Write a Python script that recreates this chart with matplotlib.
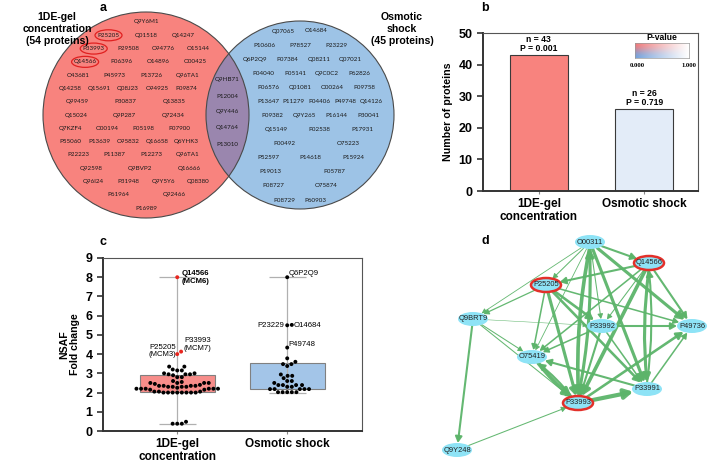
import numpy as np
import matplotlib.pyplot as plt
from matplotlib.patches import Circle, Ellipse, FancyArrowPatch

plt.rcParams['font.family'] = ['Liberation Sans', 'DejaVu Sans']

# ---------------- data ----------------
# a: Venn diagram, protein IDs grouped in rows as they appear
gel_only_rows = [
    ['Q9Y6M1'],
    ['P25205', 'Q01518', 'Q14247'],
    ['P33993', 'P29508', 'O94776', 'O15144'],
    ['Q14566', 'P06396', 'O14896', 'O00425'],
    ['O43681', 'P45973', 'P13726', 'Q96TA1'],
    ['Q14258', 'Q15691', 'Q08J23', 'O94925', 'P09874'],
    ['Q99459', 'P30837', 'Q13835'],
    ['Q15024', 'Q9P287', 'Q72434'],
    ['Q7KZF4', 'O00194', 'P05198', 'P07900'],
    ['P55060', 'P13639', 'O95832', 'Q16658', 'Q6YHK3'],
    ['P22223', 'P11387', 'P12273', 'Q96TA1'],
    ['Q92598', 'Q9BVP2', 'Q16666'],
    ['Q96I24', 'P31948', 'Q9Y5Y6', 'Q08380'],
    ['P61964', 'Q92466'],
    ['P16989'],
]
shared = ['Q9HB71', 'P12004', 'Q9Y446', 'Q14764', 'P13010']
osmotic_only_rows = [
    ['Q07065', 'O14684'],
    ['P10606', 'P78527', 'P23229'],
    ['Q6P2Q9', 'P07384', 'Q08211', 'Q07021'],
    ['P04040', 'P05141', 'Q9C0C2', 'P62826'],
    ['P06576', 'Q01081', 'O00264', 'P09758'],
    ['P13647', 'P11279', 'P04406', 'P49748', 'Q14126'],
    ['P09382', 'Q9Y265', 'P16144', 'P30041'],
    ['Q15149', 'P02538', 'P17931'],
    ['P00492', 'O75223'],
    ['P52597', 'P14618', 'P15924'],
    ['P19013', 'P05787'],
    ['P08727', 'O75874'],
    ['P08729', 'P60903'],
]
circled = ['P25205', 'P33993', 'Q14566']

# b: bar chart
methods = ['1DE-gel\nconcentration', 'Osmotic shock']
n_proteins = [43, 26]
p_values = [0.001, 0.719]

# c: NSAF fold change
g1_black = [3.35, 3.35, 3.15, 3.15, 3.2, 2.95, 2.95, 2.95, 3.0, 3.0, 2.9, 2.8,
            2.8, 2.6, 2.55, 2.5, 2.5, 2.5, 2.45, 2.5, 2.35, 2.35, 2.35, 2.3,
            2.3, 2.35, 2.3, 2.3, 2.25, 2.4, 2.2, 2.2, 2.2, 2.15, 2.2, 2.15,
            2.2, 2.2, 2.05, 2.0, 2.0, 2.0, 2.0, 2.0, 2.05, 2.0, 2.0, 2.05,
            2.0, 0.38, 0.48, 0.38, 0.38]
g1_named = {'Q14566\n(MCM6)': 8.0, 'P25205\n(MCM3)': 4.0, 'P33993\n(MCM7)': 4.13}
g2_black = [3.78, 3.6, 3.48, 3.48, 3.38, 2.94, 2.87, 2.87, 2.75, 2.6, 2.6, 2.5,
            2.39, 2.39, 2.39, 2.39, 2.3, 2.3, 2.18, 2.18, 2.18, 2.18, 2.18,
            2.02, 2.02, 2.02, 2.02, 2.02]
g2_named = {'Q6P2Q9': 8.0, 'P23229': 5.5, 'O14684': 5.52, 'P49748': 4.34}
box_q1 = [2.05, 2.16]
box_q3 = [2.9, 3.52]
whisk_lo = [0.38, 2.0]
whisk_hi = [8.0, 8.0]

# d: interaction network
nodes = ['O00311', 'Q14566', 'P25205', 'Q9BRT9', 'P33992', 'P49736',
         'O75419', 'P33991', 'P33993', 'Q9Y248']
node_x = [590, 649, 546, 473, 602, 692, 532, 647, 578, 457]
node_y = [242, 263, 285, 319, 326, 326, 357, 389, 403, 450]
mcm_nodes = ['Q14566', 'P25205', 'P33993']
edges = [
    ('O00311', 'Q14566', 2.0), ('O00311', 'P25205', 1.0), ('O00311', 'Q9BRT9', 0.8),
    ('O00311', 'O75419', 0.8), ('O00311', 'P33992', 1.0), ('O00311', 'P33993', 3.5),
    ('O00311', 'P33991', 3.0), ('O00311', 'P49736', 3.0), ('P33993', 'O00311', 3.0),
    ('Q14566', 'P25205', 2.0), ('Q14566', 'P49736', 2.0), ('Q14566', 'P33991', 3.0),
    ('Q14566', 'P33993', 3.5), ('Q14566', 'O75419', 1.5), ('Q14566', 'P33992', 1.0),
    ('P25205', 'Q9BRT9', 1.2), ('P25205', 'P33993', 3.0), ('P25205', 'P33991', 2.5),
    ('P25205', 'P49736', 1.5), ('P25205', 'O75419', 1.5), ('P25205', 'P33992', 2.5),
    ('Q9BRT9', 'P33992', 0.5), ('Q9BRT9', 'O75419', 1.0), ('Q9BRT9', 'P33993', 1.0),
    ('Q9BRT9', 'Q9Y248', 2.0), ('P33992', 'P49736', 2.0), ('P33992', 'O75419', 1.5),
    ('P33992', 'P33993', 2.0), ('P33992', 'P33991', 1.5), ('O75419', 'P33993', 3.5),
    ('P33993', 'O75419', 2.0), ('P33991', 'O75419', 2.0), ('P33993', 'P33991', 4.0),
    ('P33993', 'P49736', 2.5), ('P33991', 'P49736', 1.5), ('P33991', 'Q14566', 2.0),
    ('Q9Y248', 'P33993', 1.0),
]

# ---------------- figure ----------------
W, H = 708, 462
fig = plt.figure(figsize=(W / 100, H / 100), dpi=100)


def px_axes(l, t, w, h):
    return fig.add_axes([l / W, 1 - (t + h) / H, w / W, h / H])


def ftext(x, y, s, **kw):
    fig.text(x / W, 1 - y / H, s, **kw)


# ---- a: Venn ----
axa = px_axes(0, 0, 420, 225)
axa.set_xlim(0, 420)
axa.set_ylim(225, 0)
axa.axis('off')

rc, ry, rr = 146, 115, 103
bc, by, br = 300, 115, 94
red = Circle((rc, ry), rr, fc='#f8837e', ec='none')
blue = Circle((bc, by), br, fc='#9dc3e6', ec='none')
axa.add_patch(red)
axa.add_patch(blue)
mix = Circle((bc, by), br, fc='#9a86ae', ec='none')
axa.add_patch(mix)
mix.set_clip_path(red)
for c in [(rc, ry, rr), (bc, by, br)]:
    axa.add_patch(Circle(c[:2], c[2], fill=False, ec='#4a4a4a', lw=0.8))


def half_chord(cy, r, y):
    d = r * r - (y - cy) ** 2
    return np.sqrt(d) if d > 0 else None


def place_rows(rows, y0, y1, bounds):
    ys = np.linspace(y0, y1, len(rows))
    for row, y in zip(rows, ys):
        xl, xr = bounds(y)
        n = len(row)
        for j, name in enumerate(row):
            x = xl + (j + 0.5) * (xr - xl) / n
            axa.text(x, y, name, fontsize=4.5, family='Lato', ha='center',
                     va='center', color='#1a1a1a')
            if name in circled:
                axa.add_patch(Ellipse((x, y), 27, 11, fill=False, ec='#e02020', lw=0.9))


def red_bounds(y):
    h = half_chord(ry, rr, y)
    xl, xr = rc - h + 9, rc + h - 9
    hb = half_chord(by, br, y)
    if hb is not None:
        xr = min(xr, bc - hb - 9)
    return xl, xr


def blue_bounds(y):
    h = half_chord(by, br, y)
    xl, xr = bc - h + 9, bc + h - 9
    hr = half_chord(ry, rr, y)
    if hr is not None:
        xl = max(xl, rc + hr + 7)
    return xl, xr


place_rows(gel_only_rows, 22, 208, red_bounds)
place_rows(osmotic_only_rows, 31, 200, blue_bounds)
lens_x = ((bc - br) + (rc + rr)) / 2
for i, name in enumerate(shared):
    axa.text(lens_x, ry + (i - 2) * 16 - 3, name, fontsize=4.5, family='Lato',
             ha='center', va='center', color='#1a1a1a')

ftext(57, 29, '1DE-gel\nconcentration\n(54 proteins)', fontsize=7.6,
      fontweight='bold', ha='center', va='center', linespacing=1.25)
ftext(402, 29, 'Osmotic\nshock\n(45 proteins)', fontsize=7.6,
      fontweight='bold', ha='center', va='center', linespacing=1.25)

# ---- b: bars ----
axb = px_axes(483, 33, 215, 158)
xb = np.arange(len(methods))
axb.bar(xb, n_proteins, width=0.55, color=['#f8837e', '#e3ecf8'],
        edgecolor='#3a3a3a', lw=0.8)
for x, n, p in zip(xb, n_proteins, p_values):
    axb.text(x, n + 0.6, f'n = {n}\nP = {p:.3f}', ha='center', va='bottom',
             fontsize=6.2, fontweight='bold', linespacing=1.0)
axb.set_xlim(-0.53, 1.51)
axb.set_ylim(0, 50)
axb.set_yticks(range(0, 51, 10))
axb.set_xticks(xb)
axb.set_xticklabels(methods, fontsize=8.5, fontweight='bold', linespacing=1.1)
axb.set_ylabel('Number of proteins', fontsize=7.7, fontweight='bold', labelpad=4)

# P-value legend
axl = px_axes(635, 43, 54, 15)
r = np.linspace(0, 1, 20)[:, None, None]
t = np.linspace(0, 1, 80)[None, :, None]
s = r * r * (3 - 2 * r)
base = np.array([0.95, 0.47, 0.47]) * (1 - s) + np.array([0.45, 0.63, 0.86]) * s
img = base * (1 - t ** 0.9) + np.ones(3) * t ** 0.9
axl.imshow(img, aspect='auto')
axl.set_xticks([])
axl.set_yticks([])
for sp in axl.spines.values():
    sp.set_color('#999999')
    sp.set_linewidth(0.5)
ftext(662, 38, 'P-value', fontsize=6.2, fontweight='bold', ha='center', va='center')
ftext(637, 65, '0.000', fontsize=4.8, fontweight='bold', family='Liberation Serif',
      ha='center', va='center')
ftext(689, 65, '1.000', fontsize=4.8, fontweight='bold', family='Liberation Serif',
      ha='center', va='center')

# ---- c: box + swarm ----
axc = px_axes(103, 258, 259, 173)
axc.set_xlim(-0.675, 1.68)
axc.set_ylim(0, 9)
xpx = 259 / 2.355
ypx = 173 / 9


def swarm_offsets(vals, d):
    off = np.zeros(len(vals))
    placed = []
    for i in np.argsort(vals, kind='stable'):
        y = vals[i] * ypx
        cands, forb = [0.0], []
        for px, py in placed:
            dy = abs(py - y)
            if dy < d:
                w = np.sqrt(d * d - dy * dy)
                forb.append((px - w, px + w))
                cands += [px - w, px + w]
        for c in sorted(cands, key=lambda v: (round(abs(v), 6), -v)):
            if all(not (a + 1e-6 < c < b - 1e-6) for a, b in forb):
                off[i] = c
                break
        placed.append((off[i], y))
    return off / xpx


# text placement for the named points: (ha, va, offset in points, weight)
label_style = {
    'Q14566\n(MCM6)': ('left', 'top', (3, 5), 'bold'),
    'P25205\n(MCM3)': ('right', 'bottom', (-1, -3), 'normal'),
    'P33993\n(MCM7)': ('left', 'bottom', (2, 0), 'normal'),
    'Q6P2Q9': ('left', 'bottom', (1, 0), 'normal'),
    'P23229': ('right', 'bottom', (-2, -3), 'normal'),
    'O14684': ('left', 'bottom', (1, -3), 'normal'),
    'P49748': ('left', 'bottom', (1, 0), 'normal'),
}

box_cols = ['#f78d8a', '#a3c5e8']
groups = [(g1_black, g1_named, '#e8261f'), (g2_black, g2_named, 'black')]
for k, (blk, named, hcol) in enumerate(groups):
    axc.vlines(k, whisk_lo[k], whisk_hi[k], color='#b0b0b0', lw=0.9, zorder=1)
    axc.hlines([whisk_lo[k], whisk_hi[k]], k - 0.17, k + 0.17, color='#b0b0b0',
               lw=0.9, zorder=1)
    axc.bar(k, box_q3[k] - box_q1[k], bottom=box_q1[k], width=0.68,
            color=box_cols[k], edgecolor='#808080', lw=0.8, zorder=2)
    axc.vlines(k, box_q1[k], box_q3[k], color='#b0b0b0', lw=0.9, zorder=2.5)
    vals = np.array(blk + list(named.values()))
    cols = ['black'] * len(blk) + [hcol] * len(named)
    xs = k + swarm_offsets(vals, 4.6)
    axc.scatter(xs, vals, s=8, c=cols, zorder=3, lw=0)
    for j, name in enumerate(named):
        i = len(blk) + j
        ha, va, off, wt = label_style[name]
        axc.annotate(name, (xs[i], vals[i]), xytext=off, textcoords='offset points',
                     ha=ha, va=va, fontsize=5.6, fontweight=wt, linespacing=1.05)

axc.set_yticks(range(10))
axc.set_xticks([0, 1])
axc.set_xticklabels(methods, fontsize=8.5, fontweight='bold', linespacing=1.1)
axc.set_ylabel('NSAF\nFold change', fontsize=7.6, fontweight='bold',
               linespacing=1.1, labelpad=4)

for ax in (axb, axc):
    for side in ('left', 'bottom'):
        ax.spines[side].set_linewidth(1.4)
        ax.spines[side].set_color('#333333')
    for side in ('top', 'right'):
        ax.spines[side].set_linewidth(0.8)
        ax.spines[side].set_color('#555555')
    ax.tick_params(axis='y', labelsize=9, width=1.2, length=4, color='#333333')
    ax.tick_params(axis='x', width=0.8, length=2, color='#888888', pad=3)
    for lab in ax.get_yticklabels():
        lab.set_fontweight('bold')

# ---- d: network ----
axd = px_axes(360, 225, 348, 237)
axd.set_xlim(360, 708)
axd.set_ylim(462, 225)
axd.axis('off')
pos = {n: (x, y) for n, x, y in zip(nodes, node_x, node_y)}
ea, eb = 15, 7
pairs = {(s_, t_) for s_, t_, _ in edges}
for s_, t_, w in edges:
    x0, y0 = pos[s_]
    x1, y1 = pos[t_]
    L = np.hypot(x1 - x0, y1 - y0)
    ux, uy = (x1 - x0) / L, (y1 - y0) / L
    rr_ = 1 / np.sqrt((ux / ea) ** 2 + (uy / eb) ** 2)
    rad = 0.06 if (t_, s_) in pairs else 0.0
    arr = FancyArrowPatch((x0 + ux * rr_, y0 + uy * rr_), (x1 - ux * rr_, y1 - uy * rr_),
                          arrowstyle='-|>,head_length=0.45,head_width=0.25',
                          mutation_scale=5 + 1.5 * w, lw=0.75 * w, color='#5cb46a',
                          connectionstyle=f'arc3,rad={rad}', shrinkA=0, shrinkB=0,
                          zorder=1, alpha=0.95)
    axd.add_patch(arr)
for n in nodes:
    hl = n in mcm_nodes
    axd.add_patch(Ellipse(pos[n], 2 * ea, 2 * eb, fc='#8ee3f6',
                          ec='#e3302a' if hl else '#8ee3f6', lw=1.8 if hl else 0,
                          zorder=3))
    axd.text(*pos[n], n, fontsize=5.4, ha='center', va='center', color='#222222',
             zorder=4)

# panel letters
for x, y, s in [(103, 8, 'a'), (485, 8, 'b'), (103, 242, 'c'), (485, 241, 'd')]:
    ftext(x, y, s, fontsize=9, fontweight='bold', ha='center', va='center')

fig.savefig('out.png', dpi=100)
